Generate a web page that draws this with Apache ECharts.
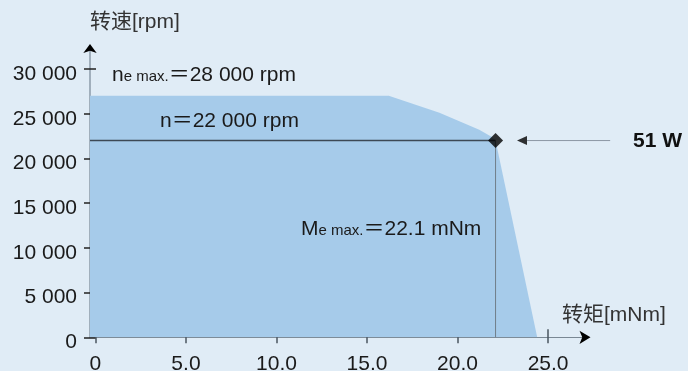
<!DOCTYPE html>
<html>
<head>
<meta charset="utf-8">
<script src="https://cdn.jsdelivr.net/npm/echarts@6/dist/echarts.min.js"></script>
<style>
  html, body { margin: 0; padding: 0; background: #e0ecf6; }
  #chart { width: 688px; height: 371px; }
</style>
</head>
<body>
<div id="chart"></div>
<script>
  // 轴刻度
  const speedTicks = [0, 5000, 10000, 15000, 20000, 25000, 30000];
  const torqueTicks = [0, 5, 10, 15, 20, 25];
  // 工作范围包络线 (转矩 mNm / 转速 rpm)
  const envTorque = [-0.3, 16.2, 19.0, 21.2, 21.9, 22.1, 24.4];
  const envSpeed = [27000, 27000, 25100, 23200, 22400, 22000, 0];
  // 额定点
  const ratedTorque = 22.1;
  const ratedSpeed = 22000;
  const maxSpeed = 28000;
  const power = 51;
  // 指示箭头 (转矩范围)
  const pointerTorque = [23.56, 23.84, 28.43];

  const font = "'Liberation Sans', 'Noto Sans CJK SC', sans-serif";
  const xMin = -0.3, xMax = 27.04, yMin = 0, yMax = 32350;

  function fmtSpeed(v) {
    return String(v).replace(/\B(?=(\d{3})+(?!\d))/g, ' ');
  }

  const chart = echarts.init(document.getElementById('chart'));

  const baseX = {
    type: 'value', min: xMin, max: xMax, position: 'bottom',
    splitLine: { show: false }
  };
  const baseY = {
    type: 'value', min: yMin, max: yMax, position: 'left',
    splitLine: { show: false }
  };

  const option = {
    backgroundColor: '#e0ecf6',
    animation: false,
    textStyle: { fontFamily: font },
    grid: { left: 90, right: 103, top: 48, bottom: 33.7, containLabel: false, outerBoundsMode: 'none' },
    xAxis: [
      Object.assign({}, baseX, {
        axisLine: { onZero: false, lineStyle: { color: '#7a8894', width: 1 } },
        axisTick: { customValues: torqueTicks, inside: false, length: 6, lineStyle: { color: '#4a5560', width: 1.5 } },
        axisLabel: {
          customValues: torqueTicks, margin: 16, color: '#1a1a1a', fontSize: 21, fontFamily: font,
          formatter: v => v === 0 ? '0' : v.toFixed(1)
        }
      }),
      Object.assign({}, baseX, {
        axisLine: { onZero: false, symbol: ['none', 'arrow'], symbolSize: [10, 11], symbolOffset: [0, 5.5], lineStyle: { color: '#000', width: 0 } },
        axisTick: { customValues: torqueTicks, inside: true, length: 8, lineStyle: { color: '#4a5560', width: 1.5 } },
        axisLabel: { show: false }
      })
    ],
    yAxis: [
      Object.assign({}, baseY, {
        name: '转速[rpm]',
        nameLocation: 'end',
        nameGap: 15,
        nameTextStyle: { align: 'left', fontSize: 21, color: '#333', fontFamily: font },
        axisLine: { onZero: false, lineStyle: { color: '#9aa9b6', width: 1.8 } },
        axisTick: { customValues: speedTicks, inside: false, length: 6, lineStyle: { color: '#222', width: 1.5 } },
        axisLabel: {
          customValues: speedTicks, margin: 13, color: '#1a1a1a', fontSize: 21, fontFamily: font,
          verticalAlign: 'top', lineHeight: 10, formatter: fmtSpeed
        }
      }),
      Object.assign({}, baseY, {
        axisLine: { onZero: false, symbol: ['none', 'arrow'], symbolSize: [10, 9], symbolOffset: [0, 4], lineStyle: { color: '#000', width: 0 } },
        axisTick: { customValues: speedTicks, inside: true, length: 6, lineStyle: { color: '#222', width: 1.5 } },
        axisLabel: { show: false }
      })
    ],
    series: [
      {
        name: 'envelope', type: 'line', symbol: 'none', z: 1,
        lineStyle: { width: 0 },
        areaStyle: { color: '#a6cbea', opacity: 1 },
        data: envTorque.map((t, i) => [t, envSpeed[i]])
      },
      {
        name: 'rated speed', type: 'line', symbol: 'none', z: 3,
        lineStyle: { color: '#3d4955', width: 1.5 },
        data: [[xMin, ratedSpeed], [ratedTorque, ratedSpeed]]
      },
      {
        name: 'rated torque', type: 'line', symbol: 'none', z: 3,
        lineStyle: { color: '#707d89', width: 1 },
        data: [[ratedTorque, ratedSpeed], [ratedTorque, 0]]
      },
      {
        name: 'pointer head', type: 'scatter', z: 4, clip: false,
        symbol: 'triangle', symbolSize: [9, 10], symbolRotate: 90,
        itemStyle: { color: '#000' },
        data: [[pointerTorque[0], ratedSpeed]]
      },
      {
        name: 'rated point', type: 'scatter', z: 5,
        symbol: 'diamond', symbolSize: [15, 15],
        itemStyle: { color: '#000' },
        data: [[ratedTorque, ratedSpeed]]
      }
    ],
    graphic: [
      {
        type: 'text', x: 112, y: 75, z: 10,
        style: {
          text: '{a|n}{b|e max.}{a|＝' + fmtSpeed(maxSpeed) + ' rpm}',
          verticalAlign: 'middle',
          rich: {
            a: { fontSize: 21, fontFamily: font, fill: '#1a1a1a', verticalAlign: 'bottom' },
            b: { fontSize: 15, fontFamily: font, fill: '#1a1a1a', verticalAlign: 'bottom', padding: [0, 0, 1, 0] }
          }
        }
      },
      {
        type: 'text', x: 160, y: 121, z: 10,
        style: {
          text: 'n＝' + fmtSpeed(ratedSpeed) + ' rpm', fontSize: 21, fontFamily: font,
          fill: '#1a1a1a', verticalAlign: 'middle'
        }
      },
      {
        type: 'text', x: 301, y: 229, z: 10,
        style: {
          text: '{a|M}{b|e max.}{a|＝' + ratedTorque + ' mNm}',
          verticalAlign: 'middle',
          rich: {
            a: { fontSize: 21, fontFamily: font, fill: '#1a1a1a', verticalAlign: 'bottom' },
            b: { fontSize: 15, fontFamily: font, fill: '#1a1a1a', verticalAlign: 'bottom', padding: [0, 0, 1, 0] }
          }
        }
      },
      {
        type: 'text', x: 633, y: 141, z: 10,
        style: {
          text: power + ' W', fontSize: 21, fontWeight: 'bold', fontFamily: font,
          fill: '#111', verticalAlign: 'middle'
        }
      },
      {
        type: 'text', x: 562, y: 315, z: 10,
        style: {
          text: '转矩[mNm]', fontSize: 21, fontFamily: font,
          fill: '#333', verticalAlign: 'middle'
        }
      }
    ]
  };

  chart.setOption(option);

  // 指示线超出坐标区，按坐标轴换算成像素后画出
  const p1 = chart.convertToPixel({ xAxisIndex: 0, yAxisIndex: 0 }, [pointerTorque[1], ratedSpeed]);
  const p2 = chart.convertToPixel({ xAxisIndex: 0, yAxisIndex: 0 }, [pointerTorque[2], ratedSpeed]);
  chart.setOption({
    graphic: [{
      id: 'pointerLine', type: 'line', z: 4,
      shape: { x1: p1[0], y1: p1[1], x2: p2[0], y2: p2[1] },
      style: { stroke: '#8c98a4', lineWidth: 1 }
    }]
  });
</script>
</body>
</html>
